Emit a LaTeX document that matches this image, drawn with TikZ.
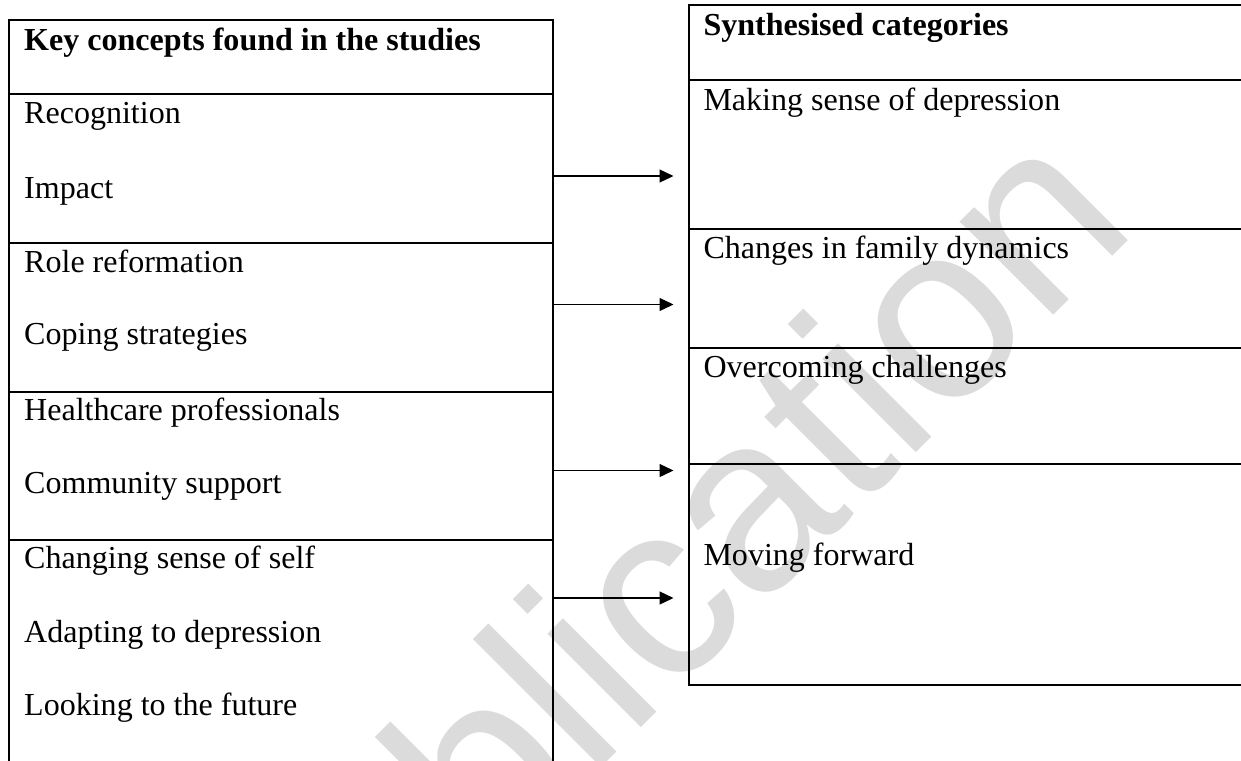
\documentclass[tikz,border=0pt]{standalone}
\usepackage{fontspec}
\setmainfont{Liberation Serif}
\newfontfamily\markfont{Liberation Sans}
\usetikzlibrary{positioning,calc,arrows.meta}
\newdimen\pxunit
\pxunit=0.3871pt
\tikzset{
  keycell/.style={
    rectangle, draw=black, line width=0.85pt, inner sep=0pt, outer sep=0pt,
    minimum width=544.1*\pxunit, minimum height=#1*\pxunit
  },
  %
  catcell/.style={
    rectangle, draw=black, line width=0.85pt, inner sep=0pt, outer sep=0pt,
    minimum width=600*\pxunit, minimum height=#1*\pxunit
  },
  %
  entry/.style={
    anchor=base west, inner sep=0pt, font=\fontsize{12.4}{14}\selectfont
  },
  %
  flow/.style={
    -{Triangle[length=5.4pt, width=5pt]}, line width=0.55pt
  },
  %
  watermark/.style={
    anchor=base west, inner sep=0pt, rotate=45, text=black!14,
    font=\markfont\fontsize{96.8}{96.8}\selectfont
  }
}

\begin{document}
\begin{tikzpicture}[x=\pxunit, y=-\pxunit]
\useasboundingbox (0,0) rectangle (1241,760);
\fill[white] (0,0) rectangle (1241,760);
\clip (0,0) rectangle (1241,760);

\node(mark)[watermark] at (275,1094) {Publication};

% key concepts column
\node(khead)[keycell=74, anchor=north west] at (8.7,20) {};
\node(krow1)[keycell=148.7, below=0pt of khead] {};
\node(krow2)[keycell=149, below=0pt of krow1] {};
\node(krow3)[keycell=148.3, below=0pt of krow2] {};
\node(krow4)[keycell=260, below=0pt of krow3] {};

\node(kt0)[entry] at ($(khead.north west)+(15,30)$) {\textbf{Key concepts found in the studies}};
\node(kt1)[entry] at ($(krow1.north west)+(15,29)$) {Recognition};
\node(kt2)[entry] at ($(krow1.north west)+(15,104)$) {Impact};
\node(kt3)[entry] at ($(krow2.north west)+(15,30)$) {Role reformation};
\node(kt4)[entry] at ($(krow2.north west)+(15,102)$) {Coping strategies};
\node(kt5)[entry] at ($(krow3.north west)+(15,28.5)$) {Healthcare professionals};
\node(kt6)[entry] at ($(krow3.north west)+(15,101.5)$) {Community support};
\node(kt7)[entry] at ($(krow4.north west)+(15,28)$) {Changing sense of self};
\node(kt8)[entry] at ($(krow4.north west)+(15,102)$) {Adapting to depression};
\node(kt9)[entry] at ($(krow4.north west)+(15,175.5)$) {Looking to the future};

% synthesised categories column
\node(shead)[catcell=75, anchor=north west] at (689,5) {};
\node(srow1)[catcell=149, below=0pt of shead] {};
\node(srow2)[catcell=119, below=0pt of srow1] {};
\node(srow3)[catcell=116, below=0pt of srow2] {};
\node(srow4)[catcell=221, below=0pt of srow3] {};

\node(st0)[entry] at ($(shead.north west)+(14,30)$) {\textbf{Synthesised categories}};
\node(st1)[entry] at ($(srow1.north west)+(14,30)$) {Making sense of depression};
\node(st2)[entry] at ($(srow2.north west)+(14,29)$) {Changes in family dynamics};
\node(st3)[entry] at ($(srow3.north west)+(14,29)$) {Overcoming challenges};
\node(st4)[entry] at ($(srow4.north west)+(14,101)$) {Moving forward};

\coordinate(tip1) at (673.5,176);
\coordinate(tip2) at (673.5,304.5);
\coordinate(tip3) at (673.5,470.5);
\coordinate(tip4) at (673.5,598);
\draw[flow] (tip1 -| krow1.east) -- (tip1);
\draw[flow] (tip2 -| krow2.east) -- (tip2);
\draw[flow] (tip3 -| krow3.east) -- (tip3);
\draw[flow] (tip4 -| krow4.east) -- (tip4);

\end{tikzpicture}
\end{document}
